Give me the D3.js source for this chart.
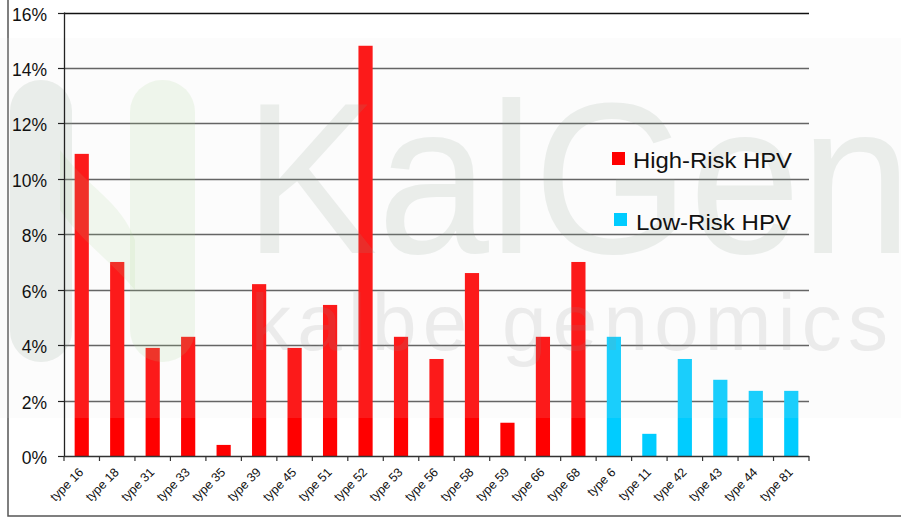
<!DOCTYPE html>
<html><head><meta charset="utf-8">
<script src="https://cdn.jsdelivr.net/npm/d3@7"></script>
<style>
html,body{margin:0;padding:0;background:#fff;overflow:hidden}
svg{display:block}
text{font-family:"Liberation Sans",Arial,sans-serif}
</style></head>
<body>
<svg id="chart" width="901" height="520"></svg>
<script>
const categories = ["type 16","type 18","type 31","type 33","type 35","type 39","type 45","type 51","type 52","type 53","type 56","type 58","type 59","type 66","type 68","type 6","type 11","type 42","type 43","type 44","type 81"];
const highRisk = [10.9,7.0,3.9,4.3,0.4,6.2,3.9,5.45,14.8,4.3,3.5,6.6,1.2,4.3,7.0,null,null,null,null,null,null];
const lowRisk  = [null,null,null,null,null,null,null,null,null,null,null,null,null,null,null,4.3,0.8,3.5,2.75,2.35,2.35];
const yTicks = [0,2,4,6,8,10,12,14,16];
const seriesNames = ["High-Risk HPV","Low-Risk HPV"];
const seriesColors = ["#ff0000","#00ccff"];

const svg = d3.select("#chart");
const L = 64, R = 809, T = 12.5, B = 456;

const x = d3.scaleBand().domain(categories).range([L,R]).paddingInner(0.6).paddingOuter(0.3);
const y = d3.scaleLinear().domain([0,16]).range([B,T]);

// outer border
svg.append("rect").attr("x",8).attr("y",-5).attr("width",910).attr("height",521)
  .attr("fill","none").attr("stroke","#555").attr("stroke-width",1.5);

// gridlines
svg.append("g").selectAll("line").data(yTicks.filter(d=>d>0)).join("line")
  .attr("x1",L).attr("x2",R).attr("y1",d=>Math.round(y(d))+0.5).attr("y2",d=>Math.round(y(d))+0.5)
  .attr("stroke",d=> d===16 ? "#111" : "#555").attr("stroke-width",1.3);

// bars
const rows = categories.map((c,i)=>({c, h:highRisk[i], l:lowRisk[i]}));
const barG = svg.append("g");
barG.selectAll("rect.h").data(rows.filter(d=>d.h!=null)).join("rect")
  .attr("x",d=>x(d.c)).attr("width",x.bandwidth())
  .attr("y",d=>y(d.h)).attr("height",d=>y(0)-y(d.h)).attr("fill",seriesColors[0]);
barG.selectAll("rect.l").data(rows.filter(d=>d.l!=null)).join("rect")
  .attr("x",d=>x(d.c)).attr("width",x.bandwidth())
  .attr("y",d=>y(d.l)).attr("height",d=>y(0)-y(d.l)).attr("fill",seriesColors[1]);

// watermark
const wm = svg.append("g").attr("pointer-events","none");
wm.append("rect").attr("x",10).attr("y",80).attr("width",62).attr("height",282).attr("rx",31)
  .attr("fill","#7d9682").attr("opacity",0.16);
wm.append("path").attr("d","M60,150 C90,190 120,200 135,240 L135,290 C110,260 80,240 60,210 Z")
  .attr("fill","#9ad080").attr("opacity",0.13);
wm.append("rect").attr("x",130).attr("y",80).attr("width",65).attr("height",282).attr("rx",32)
  .attr("fill","#9ad080").attr("opacity",0.15);
wm.append("text").attr("x",244).attr("y",253).attr("font-size",215)
  .attr("font-family","'Liberation Sans Narrow','Liberation Sans',Arial,sans-serif")
  .attr("textLength",668).attr("lengthAdjust","spacingAndGlyphs")
  .attr("fill","#7d9682").attr("opacity",0.15).text("KalGen");
wm.append("text").attr("x",251).attr("y",350).attr("font-size",80)
  .attr("font-family","'Liberation Sans Narrow','Liberation Sans',Arial,sans-serif")
  .attr("textLength",637).attr("lengthAdjust","spacing")
  .attr("fill","#888").attr("opacity",0.15).text("kalbe genomics");
// band overlay
svg.append("rect").attr("x",0).attr("y",38).attr("width",901).attr("height",380)
  .attr("fill","#e4e4e4").attr("opacity",0.114);

// axes
const axG = svg.append("g");
axG.append("line").attr("x1",L+0.5).attr("x2",L+0.5).attr("y1",T).attr("y2",B).attr("stroke","#222").attr("stroke-width",1.3);
axG.append("line").attr("x1",L).attr("x2",R).attr("y1",B+0.5).attr("y2",B+0.5).attr("stroke","#333").attr("stroke-width",1.5);
axG.selectAll("line.yt").data(yTicks).join("line")
  .attr("x1",L-6).attr("x2",L).attr("y1",d=>Math.round(y(d))+0.5).attr("y2",d=>Math.round(y(d))+0.5)
  .attr("stroke","#222").attr("stroke-width",1.2);
axG.selectAll("text.yl").data(yTicks).join("text")
  .attr("x",47).attr("y",d=>y(d)+8).attr("text-anchor","end")
  .attr("font-size",17.5).attr("fill","#111").text(d=>d+"%");
const step = x.step();
const bounds = d3.range(categories.length+1).map(i=>L+i*step);
axG.selectAll("line.xt").data(bounds).join("line")
  .attr("x1",d=>d).attr("x2",d=>d).attr("y1",B).attr("y2",B+5)
  .attr("stroke","#333").attr("stroke-width",1.2);
axG.selectAll("text.xl").data(categories).join("text")
  .attr("transform",d=>`translate(${x(d)+x.bandwidth()/2+2.5},${B+17}) rotate(-45)`)
  .attr("text-anchor","end").attr("font-size",12.5).attr("fill","#111").text(d=>d);

// legend
const leg = svg.append("g");
const legPos = [{sx:612,sy:152,tx:633,ty:168,w:159},{sx:614,sy:213,tx:636,ty:230,w:155}];
seriesNames.forEach((n,i)=>{
  leg.append("rect").attr("x",legPos[i].sx).attr("y",legPos[i].sy).attr("width",13).attr("height",13).attr("fill",seriesColors[i]);
  leg.append("text").attr("x",legPos[i].tx).attr("y",legPos[i].ty).attr("font-size",21.5)
    .attr("textLength",legPos[i].w).attr("lengthAdjust","spacingAndGlyphs")
    .attr("fill","#111").text(n);
});
</script>
</body></html>
